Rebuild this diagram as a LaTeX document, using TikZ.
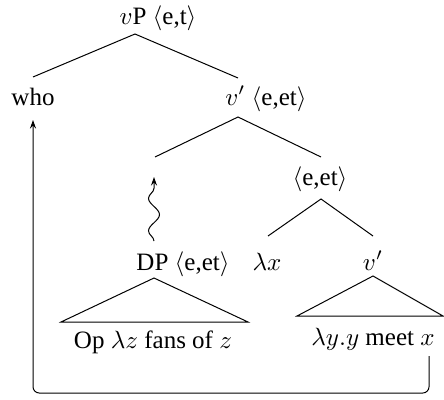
\documentclass[tikz,border=0pt]{standalone}
\usepackage{fontspec}
\setmainfont{Liberation Serif}
\usetikzlibrary{decorations.pathmorphing,arrows.meta}
\begin{document}
\begin{tikzpicture}[x=0.4pt,y=-0.4pt,
  lbl/.style={inner sep=0pt,anchor=base,font=\rmfamily},
  edge/.style={draw,line width=0.4pt},
  tip/.style={-{Stealth[length=3.4pt,width=2.4pt]}}]
\useasboundingbox (0,0) rectangle (444,399);
% labels
\node[lbl] (vp) at (158,25) {$v$P $\langle$e,t$\rangle$};
\node[lbl] (who) at (33,105) {who};
\node[lbl] (vbar) at (266,105) {$v'$ $\langle$e,et$\rangle$};
\node[lbl] (eet) at (320,185) {$\langle$e,et$\rangle$};
\node[lbl] (dp) at (183,270) {DP $\langle$e,et$\rangle$};
\node[lbl] (lx) at (267,270) {$\lambda x$};
\node[lbl] (vbar2) at (373,270) {$v'$};
\node[lbl] (op) at (153,348) {Op $\lambda z$ fans of $z$};
\node[lbl] (meet) at (373,345) {$\lambda y.y$ meet $x$};
% branch points
\coordinate (vpA) at (135,34);
\coordinate (whoT) at (33,77);
\coordinate (vbarT) at (238,78);
\coordinate (vbarA) at (238,117);
\coordinate (gapT) at (155,157);
\coordinate (eetT) at (321,157);
\coordinate (eetA) at (321,199);
\coordinate (lxT) at (268,236);
\coordinate (vbtwoT) at (373,236);
\coordinate (dpA) at (154,278);
\coordinate (dpL) at (61,322);
\coordinate (dpR) at (248,322);
\coordinate (vtA) at (373,276);
\coordinate (vtL) at (297,316);
\coordinate (vtR) at (443,316);
\coordinate (waveS) at (154,241);
\coordinate (waveE) at (154,177);
\coordinate (trS) at (429,356);
\coordinate (trC1) at (429,393);
\coordinate (trC2) at (33,393);
\coordinate (whoB) at (33,120);
% edges
\draw[edge] (whoT) -- (vpA) -- (vbarT);
\draw[edge] (gapT) -- (vbarA) -- (eetT);
\draw[edge] (lxT) -- (eetA) -- (vbtwoT);
\draw[edge] (dpA) -- (dpL) -- (dpR) -- cycle;
\draw[edge] (vtA) -- (vtL) -- (vtR) -- cycle;
% wavy movement arrow
\draw[edge,tip,decorate,decoration={snake,amplitude=2.2pt,segment length=13pt,post length=4pt}] (waveS) -- (waveE);
% trace arrow
\draw[edge,tip,rounded corners=2.5pt] (trS) -- (trC1) -- (trC2) -- (whoB);
\end{tikzpicture}
\end{document}
